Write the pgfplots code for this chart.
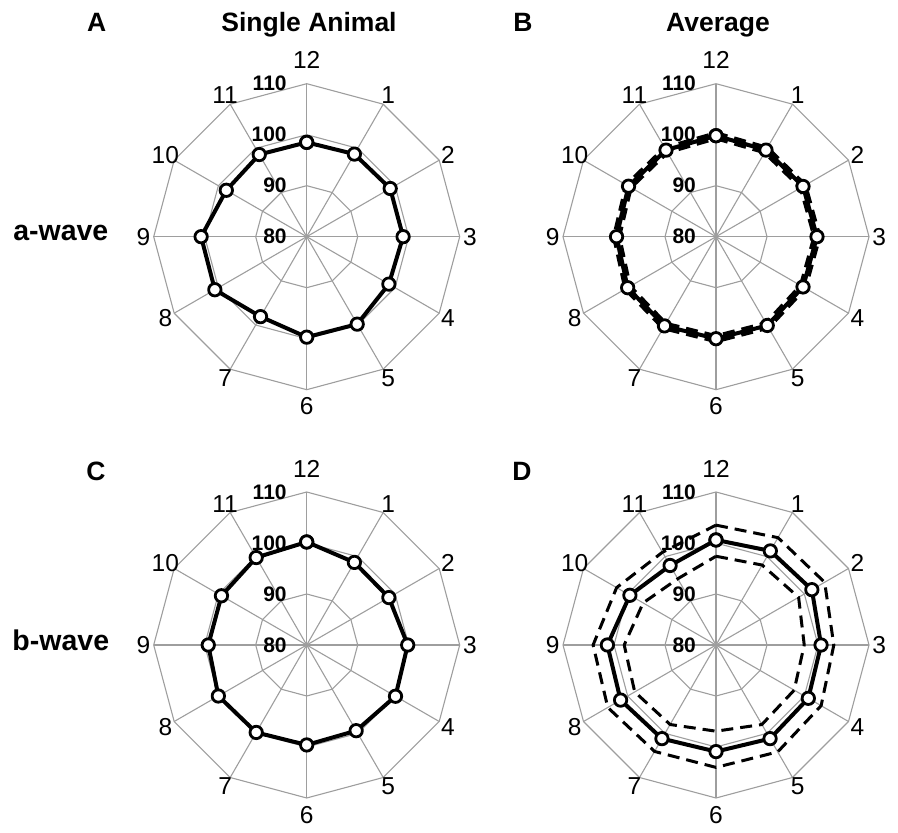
\documentclass[border=0pt]{standalone}
\usepackage{fontspec}
\setmainfont{Liberation Sans}
\usepackage{pgfplots}
\usepackage{pgfplotstable}
\pgfplotsset{compat=1.18}

% angle (deg, clockwise from 12 o'clock), value
\pgfplotstableread{
a v
0 98.5
30 98.7
60 98.9
90 98.9
120 98.6
150 99.8
180 99.7
210 98.1
240 100.8
270 100.7
300 98.2
330 98.6
360 98.5
}\tabA

\pgfplotstableread{
a v lo hi
0 99.8 99.2 100.4
30 99.6 99.0 100.2
60 99.7 99.1 100.3
90 99.8 99.2 100.4
120 99.7 99.1 100.3
150 100.1 99.5 100.7
180 100.0 99.4 100.6
210 100.2 99.6 100.8
240 100.0 99.4 100.6
270 99.5 98.9 100.1
300 99.8 99.2 100.4
330 99.6 99.0 100.2
360 99.8 99.2 100.4
}\tabB

\pgfplotstableread{
a v
0 100.2
30 98.7
60 98.6
90 99.8
120 100.1
150 99.4
180 99.6
210 99.8
240 100.0
270 99.3
300 99.3
330 99.8
360 100.2
}\tabC

\pgfplotstableread{
a v lo hi
0 100.6 97.4 103.5
30 101.3 98.1 104.3
60 101.7 98.7 104.6
90 100.6 97.3 103.1
120 100.9 97.7 103.8
150 101.2 98.0 104.2
180 100.9 96.9 104.0
210 101.2 98.0 104.1
240 101.6 98.4 104.5
270 101.3 98.0 104.1
300 99.5 96.5 102.5
330 98.0 95.0 101.0
360 100.6 97.4 103.5
}\tabD

% grid rings: angle and ring values 90, 100, 110
\pgfplotstableread{
a r1 r2 r3
0 90 100 110
30 90 100 110
60 90 100 110
90 90 100 110
120 90 100 110
150 90 100 110
180 90 100 110
210 90 100 110
240 90 100 110
270 90 100 110
300 90 100 110
330 90 100 110
360 90 100 110
}\ringtab

\definecolor{gridgray}{gray}{0.62}
\tikzset{spoke/.style={gridgray, line width=1.1bp}}
\pgfplotsset{
  radar/.style={hide axis, scale only axis, x=5.1bp, y=5.1bp,
    xmin=-36, xmax=36, ymin=-36, ymax=36, clip=false, anchor=center},
  gridline/.style={gridgray, line width=1.1bp, no marks},
  meanline/.style={black, line width=4bp, line join=round, mark=*,
    mark size=6.2bp, mark options={solid, fill=white, draw=black, line width=2.8bp}},
  sdline/.style={black, line width=3bp, line join=round, no marks,
    dash pattern=on 12bp off 7bp},
}
\newcommand{\spokefont}{\fontsize{24.5bp}{26bp}\selectfont}
\newcommand{\ringfont}{\fontsize{21bp}{23bp}\selectfont\bfseries}
\newcommand{\titlefont}{\fontsize{26.5bp}{28bp}\selectfont\bfseries}
\newcommand{\rowfont}{\fontsize{28.5bp}{30bp}\selectfont\bfseries}

\newcommand{\radargrid}{%
  \pgfplotsinvokeforeach{r1,r2,r3}{%
    \addplot[gridline] table[x expr={(\thisrow{##1}-80)*sin(\thisrow{a})}, y expr={(\thisrow{##1}-80)*cos(\thisrow{a})}]{\ringtab};}
  \pgfplotsinvokeforeach{0,30,...,330}{%
    \draw[spoke] (axis cs:0,0) -- (axis cs:{30*sin(##1)},{30*cos(##1)});}
}
% label radius: 12 o'clock 34.6, 6 o'clock 33.3, others 32
\newcommand{\radarlabels}{%
  \pgfplotsinvokeforeach{1,...,12}{%
    \node[font=\spokefont, inner sep=0pt] at (axis cs:{ifthenelse(##1==12,34.6,ifthenelse(##1==6,33.3,32))*sin(##1*30)},{ifthenelse(##1==12,34.6,ifthenelse(##1==6,33.3,32))*cos(##1*30)}) {##1};}
  \node[font=\ringfont, anchor=east, inner sep=0pt] at (axis cs:-3.9,0) {80};
  \node[font=\ringfont, anchor=east, inner sep=0pt] at (axis cs:-3.9,10) {90};
  \node[font=\ringfont, anchor=east, inner sep=0pt] at (axis cs:-3.9,20) {100};
  \node[font=\ringfont, anchor=east, inner sep=0pt] at (axis cs:-3.9,30) {110};
}
\newcommand{\meanplot}[1]{%
  \addplot[meanline] table[x expr={(\thisrow{v}-80)*sin(\thisrow{a})}, y expr={(\thisrow{v}-80)*cos(\thisrow{a})}]{#1};}
\newcommand{\sdplots}[1]{%
  \addplot[sdline] table[x expr={(\thisrow{hi}-80)*sin(\thisrow{a})}, y expr={(\thisrow{hi}-80)*cos(\thisrow{a})}]{#1};
  \addplot[sdline] table[x expr={(\thisrow{lo}-80)*sin(\thisrow{a})}, y expr={(\thisrow{lo}-80)*cos(\thisrow{a})}]{#1};}

\begin{document}
\begin{tikzpicture}
\path[use as bounding box] (0,0) rectangle (898bp,833bp);

\begin{axis}[radar, at={(306.7bp,596.3bp)}]
  \radargrid
  \meanplot{\tabA}
  \radarlabels
\end{axis}

\begin{axis}[radar, at={(716bp,596.3bp)}]
  \radargrid
  \sdplots{\tabB}
  \meanplot{\tabB}
  \radarlabels
\end{axis}

\begin{axis}[radar, at={(306.7bp,188bp)}]
  \radargrid
  \meanplot{\tabC}
  \radarlabels
\end{axis}

\begin{axis}[radar, at={(716bp,188bp)}]
  \radargrid
  \sdplots{\tabD}
  \meanplot{\tabD}
  \radarlabels
\end{axis}

\node[font=\titlefont, anchor=base] at (96.7bp,801.3bp) {A};
\node[font=\titlefont, anchor=base] at (309bp,801.3bp) {Single Animal};
\node[font=\titlefont, anchor=base] at (523bp,801.3bp) {B};
\node[font=\titlefont, anchor=base] at (718bp,801.3bp) {Average};
\node[font=\titlefont, anchor=base] at (96bp,352bp) {C};
\node[font=\titlefont, anchor=base] at (522bp,352bp) {D};
\node[font=\rowfont, anchor=base] at (60.8bp,592bp) {a-wave};
\node[font=\rowfont, anchor=base] at (60.8bp,182.7bp) {b-wave};
\end{tikzpicture}
\end{document}
